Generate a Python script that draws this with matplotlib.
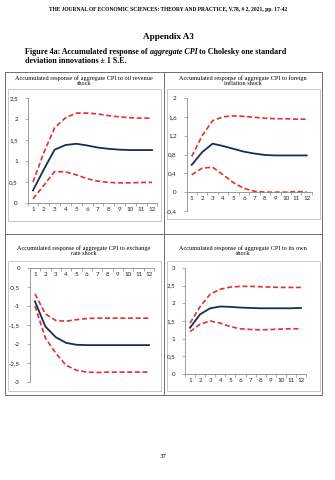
import numpy as np
import matplotlib.pyplot as plt
from matplotlib.patches import Rectangle

W, H = 335, 480

periods = np.arange(1, 13)

# oil revenue shock
oil_mid = [0.30, 0.80, 1.27, 1.38, 1.41, 1.37, 1.32, 1.29, 1.27, 1.26, 1.26, 1.26]
oil_up = [0.50, 1.20, 1.79, 2.03, 2.14, 2.14, 2.12, 2.08, 2.05, 2.03, 2.02, 2.02]
oil_lo = [0.10, 0.42, 0.75, 0.74, 0.67, 0.58, 0.52, 0.49, 0.48, 0.48, 0.49, 0.49]

# foreign inflation shock
fin_mid = [0.58, 0.85, 1.03, 0.98, 0.92, 0.86, 0.82, 0.79, 0.78, 0.78, 0.78, 0.78]
fin_up = [0.76, 1.20, 1.52, 1.60, 1.62, 1.61, 1.59, 1.57, 1.56, 1.56, 1.55, 1.55]
fin_lo = [0.37, 0.51, 0.53, 0.37, 0.20, 0.08, 0.02, 0.00, 0.00, 0.00, 0.01, 0.01]

# exchange rate shock
exr_mid = [-0.88, -1.54, -1.82, -1.97, -2.02, -2.03, -2.03, -2.03, -2.03, -2.03, -2.03, -2.03]
exr_up = [-0.68, -1.21, -1.38, -1.40, -1.36, -1.33, -1.32, -1.32, -1.32, -1.32, -1.32, -1.32]
exr_lo = [-1.00, -1.84, -2.24, -2.56, -2.69, -2.74, -2.75, -2.74, -2.74, -2.74, -2.74, -2.74]

# own shock
own_mid = [1.31, 1.69, 1.86, 1.91, 1.90, 1.88, 1.87, 1.86, 1.86, 1.86, 1.86, 1.87]
own_up = [1.44, 1.91, 2.26, 2.40, 2.46, 2.48, 2.48, 2.47, 2.46, 2.45, 2.45, 2.45]
own_lo = [1.20, 1.41, 1.50, 1.44, 1.34, 1.28, 1.26, 1.25, 1.26, 1.27, 1.28, 1.28]

oil_ticks = [0, 0.5, 1, 1.5, 2, 2.5]
oil_labels = ['0', '0,5', '1', '1,5', '2', '2,5']
fin_ticks = [-0.4, 0, 0.4, 0.8, 1.2, 1.6, 2]
fin_labels = ['-0,4', '0', '0,4', '0,8', '1,2', '1,6', '2']
exr_ticks = [-3, -2.5, -2, -1.5, -1, -0.5, 0]
exr_labels = ['-3', '-2,5', '-2', '-1,5', '-1', '-0,5', '0']
own_ticks = [0, 0.5, 1, 1.5, 2, 2.5, 3]
own_labels = ['0', '0,5', '1', '1,5', '2', '2,5', '3']

titles = [
    'Accumulated response of aggregate CPI to oil revenue\nshock',
    'Accumulated response of aggregate CPI to foreign\ninflation shock',
    'Accumulated response of aggregate CPI to exchange\nrate shock',
    'Accumulated response of aggregate CPI to its own\nshock',
]

SERIF = 'Liberation Serif'
NAVY = '#1c2b52'
RED = '#e2302f'
AXIS = '#8a8a8a'

fig = plt.figure(figsize=(W / 100, H / 100), dpi=100)
bg = fig.add_axes([0, 0, 1, 1], zorder=0)
bg.set_xlim(0, W)
bg.set_ylim(H, 0)
bg.axis('off')

bg.text(168, 10, 'THE JOURNAL OF ECONOMIC SCIENCES: THEORY AND PRACTICE, V.78, # 2, 2021, pp. 17-42',
        family=SERIF, weight='bold', fontsize=4.0, ha='center', va='center')
bg.text(168, 37, 'Appendix A3', family=SERIF, weight='bold', fontsize=6.6, ha='center', va='center')

# caption with an italic part
t1 = bg.text(25, 52, 'Figure 4a: Accumulated response of', family=SERIF, weight='bold',
             fontsize=5.8, ha='left', va='center')
t2 = bg.annotate(' aggregate CPI', xy=(1, 0), xycoords=t1, family=SERIF, weight='bold',
                 style='italic', fontsize=5.8, ha='left', va='bottom')
bg.annotate(' to Cholesky one standard', xy=(1, 0), xycoords=t2, family=SERIF, weight='bold',
            fontsize=5.8, ha='left', va='bottom')
bg.text(25, 61, 'deviation innovations \u00b1 1 S.E.', family=SERIF, weight='bold',
        fontsize=5.8, ha='left', va='center')

bg.text(163, 456, '37', family=SERIF, fontsize=5, ha='center', va='center')

# table grid
grid = dict(color='#6e6e6e', lw=0.7)
bg.plot([5, 322, 322, 5, 5], [72, 72, 395, 395, 72], **grid)
bg.plot([5, 322], [234, 234], **grid)
bg.plot([164, 164], [72, 395], **grid)

# chart areas
boxes = [(8, 89, 161, 221), (167, 89, 320, 219), (8, 261, 161, 391), (167, 261, 320, 391)]
title_pos = [(84, 81), (243, 81), (84, 251), (243, 251)]
for (x0, y0, x1, y1), (tx, ty), title in zip(boxes, title_pos, titles):
    bg.add_patch(Rectangle((x0 + 1, y0 + 1), x1 - x0, y1 - y0, fc='#b0b0b0', ec='none'))
    bg.add_patch(Rectangle((x0, y0), x1 - x0, y1 - y0, fc='white', ec='#c4c4c4', lw=0.6))
    bg.text(tx, ty, title, family=SERIF, fontsize=4.5, ha='center', va='center',
            linespacing=1.05)


def chart(px, mid, up, lo, ylim, ticks, labels):
    x0, y0, x1, y1 = px
    ax = fig.add_axes([x0 / W, 1 - y1 / H, (x1 - x0) / W, (y1 - y0) / H], zorder=2)
    ax.patch.set_alpha(0)
    ax.plot(periods, up, color=RED, lw=1.2, ls=(0, (3, 1.6)))
    ax.plot(periods, lo, color=RED, lw=1.2, ls=(0, (3, 1.6)))
    ax.plot(periods, mid, color=NAVY, lw=1.3)
    ax.set_xlim(0.5, 12.5)
    ax.set_ylim(*ylim)
    for s in ['top', 'right']:
        ax.spines[s].set_visible(False)
    ax.spines['left'].set_color(AXIS)
    ax.spines['left'].set_linewidth(0.6)
    ax.spines['bottom'].set_color(AXIS)
    ax.spines['bottom'].set_linewidth(0.6)
    ax.spines['bottom'].set_position(('data', 0))
    ax.set_xticks(periods)
    ax.set_xticklabels([str(p) for p in periods])
    ax.set_xticks(np.arange(0.5, 13, 1), minor=True)
    ax.set_yticks(ticks)
    ax.set_yticklabels(labels)
    ax.tick_params(axis='x', which='major', length=0, pad=3)
    ax.tick_params(axis='x', which='minor', length=2, width=0.5, color=AXIS, direction='out')
    ax.tick_params(axis='y', length=2, width=0.5, color=AXIS, pad=5)
    for lab in ax.get_xticklabels() + ax.get_yticklabels():
        lab.set_family('Lato')
        lab.set_fontsize(4.5)
        lab.set_color('#262626')
    return ax


chart((27.6, 98, 157.4, 203), oil_mid, oil_up, oil_lo, (0, 2.5), oil_ticks, oil_labels)
chart((186.5, 98, 311.9, 211), fin_mid, fin_up, fin_lo, (-0.4, 2), fin_ticks, fin_labels)
chart((29.8, 268, 154.2, 382), exr_mid, exr_up, exr_lo, (-3, 0), exr_ticks, exr_labels)
chart((185, 268, 306, 374), own_mid, own_up, own_lo, (0, 3), own_ticks, own_labels)

fig.savefig('out.png', dpi=100)
